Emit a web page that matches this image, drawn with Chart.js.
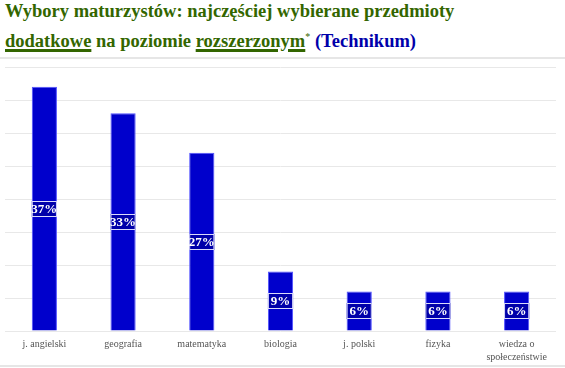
<!DOCTYPE html>
<html lang="pl">
<head>
<meta charset="utf-8">
<title>Wybory maturzystów</title>
<script src="https://cdn.jsdelivr.net/npm/chart.js@4"></script>
<style>
  html, body { margin: 0; padding: 0; background: #fff; }
  body { width: 565px; height: 368px; position: relative; overflow: hidden; }
  #title {
    position: absolute; left: 5px; top: -1px; margin: 0;
    font: bold 18.5px "Liberation Serif", "Times New Roman", serif;
    line-height: 25px; color: #336600;
  }
  #title u { text-decoration-thickness: 3px; text-underline-offset: 2px; }
  #title sup { font-size: 10px; font-weight: normal; }
  #title .school { color: #0000aa; }
  .rule { position: absolute; left: 0; width: 565px; height: 2px; background: #e6e6e6; }
  #wrap { position: absolute; left: 0; top: 60px; width: 565px; height: 305px; }
</style>
</head>
<body>
<div id="title">Wybory maturzystów: najczęściej wybierane przedmioty<br>
<u>dodatkowe</u> na poziomie <u>rozszerzonym</u><sup>*</sup> <span class="school">(Technikum)</span></div>
<div class="rule" style="top:57px"></div>
<div id="wrap"><canvas id="chart"></canvas></div>
<div class="rule" style="top:365px"></div>
<script>
const subjects = ['j. angielski', 'geografia', 'matematyka', 'biologia', 'j. polski', 'fizyka', ['wiedza o', 'społeczeństwie']];
const shares = [37, 33, 27, 9, 6, 6, 6];
const yTicks = [0, 5, 10, 15, 20, 25, 30, 35, 40];

// etykiety procentowe na środku słupków
const barLabels = {
  id: 'barLabels',
  afterDatasetsDraw(chart) {
    const { ctx } = chart;
    const meta = chart.getDatasetMeta(0);
    ctx.save();
    ctx.font = 'bold 13px "Liberation Serif", serif';
    ctx.textAlign = 'center';
    ctx.textBaseline = 'middle';
    meta.data.forEach((bar, i) => {
      const text = shares[i] + '%';
      const w = bar.width;
      const h = 16;
      const cy = Math.round((bar.y + bar.base) / 2);
      ctx.fillStyle = '#0000aa';
      ctx.fillRect(bar.x - w / 2, cy - h / 2, w, h);
      ctx.strokeStyle = 'rgba(230,230,255,0.95)';
      ctx.lineWidth = 1;
      ctx.strokeRect(bar.x - w / 2 + 0.5, cy - h / 2 + 0.5, w - 1, h - 1);
      ctx.fillStyle = '#fff';
      ctx.fillText(text, bar.x, cy + 1);
    });
    ctx.restore();
  }
};

new Chart(document.getElementById('chart'), {
  type: 'bar',
  data: {
    labels: subjects,
    datasets: [{
      data: shares,
      backgroundColor: '#0000cc',
      borderColor: '#5050ff',
      borderWidth: 1,
      barPercentage: 0.4,
      categoryPercentage: 0.8
    }]
  },
  options: {
    responsive: true,
    maintainAspectRatio: false,
    animation: false,
    layout: { padding: { left: 5, right: 9, top: 7, bottom: 0 } },
    plugins: { legend: { display: false }, tooltip: { enabled: false } },
    scales: {
      x: {
        grid: { display: false },
        border: { display: false },
        afterFit(axis) { axis.height = 34; },
        ticks: {
          color: '#555',
          font: { family: '"Liberation Serif", serif', size: 10, lineHeight: 1.3 },
          padding: -1,
          maxRotation: 0,
          autoSkip: false
        }
      },
      y: {
        min: 0,
        max: 40,
        afterBuildTicks(axis) { axis.ticks = yTicks.map(v => ({ value: v })); },
        grid: { color: '#e8e8e8', drawTicks: false },
        border: { display: false },
        ticks: { display: false }
      }
    }
  },
  plugins: [barLabels]
});
</script>
</body>
</html>
